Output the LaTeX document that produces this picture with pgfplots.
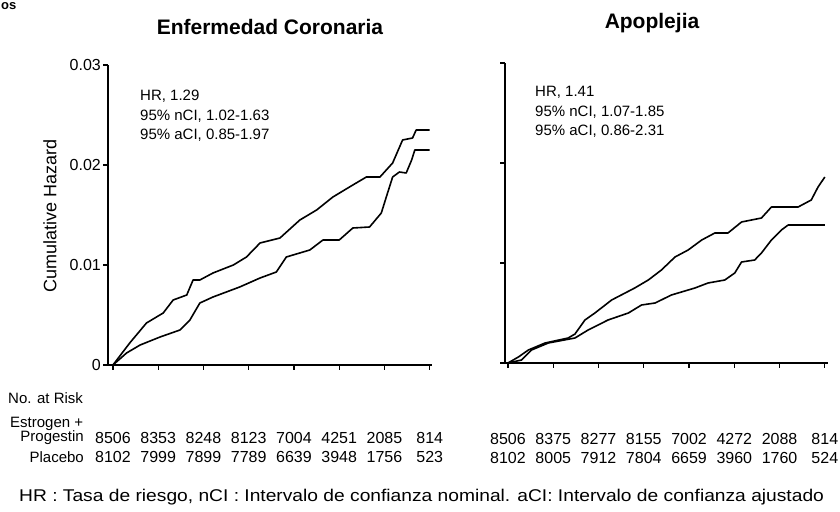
\documentclass[border=0pt]{standalone}
\usepackage{fontspec}
\setmainfont{Liberation Sans}
\usepackage{graphicx}
\usepackage{pgfplots}
\pgfplotsset{compat=1.18}

\pgfplotsset{
  kmaxis/.style={
    scale only axis,
    width=323bp, height=300bp,
    ymin=0, ymax=0.03,
    axis x line*=bottom, axis y line*=left,
    axis line style={line width=1.5bp, black, -},
    xtick={0,1,2,3,4,5,6,7}, xticklabels={},
    ytick={0,0.01,0.02,0.03},
    scaled y ticks=false,
    tick align=outside,
    major tick length=5bp,
    tick style={line width=1.2bp, black},
    clip=false,
  },
  kmline/.style={black, line width=1.6bp, line join=round, mark=none},
}

\begin{document}
\begin{tikzpicture}
\path[use as bounding box] (0,0) rectangle (840bp,512bp);

% fragment of text at top left
\node[anchor=base west, inner sep=0pt, font=\fontsize{13bp}{13bp}\selectfont\bfseries] at (1bp,502bp) {os};

% ---------------- Left panel: Enfermedad Coronaria ----------------
\begin{axis}[kmaxis, at={(108bp,147bp)}, anchor=south west,
    xmin=-0.11, xmax=7.05, width=324bp,
    yticklabels={0,0.01,0.02,0.03},
    yticklabel style={font=\fontsize{16bp}{16bp}\selectfont, inner sep=2bp}]
\addplot[kmline] coordinates {
 (0,0) (0.37,0.0022) (0.74,0.0042) (1.11,0.0052) (1.33,0.0065) (1.63,0.0070)
 (1.77,0.0085) (1.92,0.0085) (2.21,0.0092) (2.66,0.0100) (2.95,0.0108)
 (3.25,0.0122) (3.69,0.0127) (4.13,0.0145) (4.5,0.0155) (4.86,0.0168)
 (5.3,0.0180) (5.6,0.0188) (5.9,0.0188) (6.18,0.0202) (6.4,0.0225)
 (6.62,0.0227) (6.7,0.0235) (7.0,0.0235)};
\addplot[kmline] coordinates {
 (0,0) (0.3,0.0012) (0.6,0.0020) (1.04,0.0028) (1.48,0.0035) (1.7,0.0045)
 (1.92,0.0062) (2.21,0.0068) (2.8,0.0078) (3.25,0.0087) (3.61,0.0093)
 (3.83,0.0108) (4.35,0.0115) (4.64,0.0125) (5.0,0.0125) (5.3,0.0137)
 (5.67,0.0138) (5.93,0.0152) (6.04,0.0168) (6.18,0.0188) (6.33,0.0193)
 (6.48,0.0192) (6.6,0.0205) (6.67,0.0215) (7.0,0.0215)};
% numbers at risk
\begin{scope}[every node/.style={font=\fontsize{16bp}{16bp}\selectfont, inner sep=0pt}]
\node at (axis cs:0,-0.0073) {8506};
\node at (axis cs:1,-0.0073) {8353};
\node at (axis cs:2,-0.0073) {8248};
\node at (axis cs:3,-0.0073) {8123};
\node at (axis cs:4,-0.0073) {7004};
\node at (axis cs:5,-0.0073) {4251};
\node at (axis cs:6,-0.0073) {2085};
\node at (axis cs:7,-0.0073) {814};
\node at (axis cs:0,-0.0092) {8102};
\node at (axis cs:1,-0.0092) {7999};
\node at (axis cs:2,-0.0092) {7899};
\node at (axis cs:3,-0.0092) {7789};
\node at (axis cs:4,-0.0092) {6639};
\node at (axis cs:5,-0.0092) {3948};
\node at (axis cs:6,-0.0092) {1756};
\node at (axis cs:7,-0.0092) {523};
\end{scope}
\end{axis}

% ---------------- Right panel: Apoplejia ----------------
\begin{axis}[kmaxis, at={(505bp,149bp)}, anchor=south west,
    xmin=-0.066, xmax=7.07,
    yticklabels={}]
\addplot[kmline] coordinates {
 (0,0) (0.23,0.0006) (0.45,0.0013) (0.82,0.0020) (1.33,0.0025) (1.48,0.0029)
 (1.7,0.0043) (1.92,0.0050) (2.29,0.0063) (2.8,0.0075) (3.1,0.0083)
 (3.39,0.0093) (3.69,0.0106) (3.98,0.0113) (4.28,0.0123) (4.57,0.0130)
 (4.86,0.0130) (5.16,0.0141) (5.6,0.0145) (5.82,0.0156) (6.41,0.0156)
 (6.7,0.0163) (6.85,0.0176) (7.0,0.0186)};
\addplot[kmline] coordinates {
 (0,0) (0.3,0.0003) (0.52,0.0013) (0.89,0.0020) (1.48,0.0025) (1.77,0.0033)
 (2.21,0.0043) (2.66,0.0050) (2.95,0.0058) (3.25,0.0060) (3.61,0.0068)
 (4.13,0.0075) (4.42,0.0080) (4.79,0.0083) (5.01,0.0090) (5.16,0.0101)
 (5.45,0.0103) (5.6,0.0110) (5.82,0.0123) (6.04,0.0133) (6.19,0.0138)
 (7.0,0.0138)};
\begin{scope}[every node/.style={font=\fontsize{16bp}{16bp}\selectfont, inner sep=0pt}]
\node at (axis cs:0,-0.0076) {8506};
\node at (axis cs:1,-0.0076) {8375};
\node at (axis cs:2,-0.0076) {8277};
\node at (axis cs:3,-0.0076) {8155};
\node at (axis cs:4,-0.0076) {7002};
\node at (axis cs:5,-0.0076) {4272};
\node at (axis cs:6,-0.0076) {2088};
\node at (axis cs:7,-0.0076) {814};
\node at (axis cs:0,-0.0095) {8102};
\node at (axis cs:1,-0.0095) {8005};
\node at (axis cs:2,-0.0095) {7912};
\node at (axis cs:3,-0.0095) {7804};
\node at (axis cs:4,-0.0095) {6659};
\node at (axis cs:5,-0.0095) {3960};
\node at (axis cs:6,-0.0095) {1760};
\node at (axis cs:7,-0.0095) {524};
\end{scope}
\end{axis}

% ---------------- Texts ----------------
\node[font=\fontsize{21bp}{21bp}\selectfont\bfseries] at (270bp,485bp) {Enfermedad Coronaria};
\node[font=\fontsize{21bp}{21bp}\selectfont\bfseries] at (652bp,489bp) {Apoplejia};

\node[rotate=90, font=\fontsize{18bp}{18bp}\selectfont] at (50bp,296bp) {Cumulative Hazard};

\node[anchor=north west, align=left, inner sep=0pt, font=\fontsize{15bp}{19.5bp}\selectfont]
  at (140bp,422bp) {HR, 1.29\\95\% nCI, 1.02-1.63\\95\% aCI, 0.85-1.97};
\node[anchor=north west, align=left, inner sep=0pt, font=\fontsize{15bp}{19.5bp}\selectfont]
  at (535bp,426bp) {HR, 1.41\\95\% nCI, 1.07-1.85\\95\% aCI, 0.86-2.31};

\begin{scope}[every node/.style={font=\fontsize{15bp}{15bp}\selectfont, inner sep=0pt}]
\node[anchor=west] at (8bp,114bp) {No. at Risk};
\node[anchor=west] at (10bp,88bp) {Estrogen +};
\node[anchor=east] at (84bp,74bp) {Progestin};
\node[anchor=east] at (84bp,55bp) {Placebo};
\end{scope}

\node[anchor=west, inner sep=0pt, font=\fontsize{17bp}{17bp}\selectfont] at (19bp,15bp)
  {\scalebox{1.13}[1]{HR : Tasa de riesgo, nCI : Intervalo de confianza nominal. aCI: Intervalo de confianza ajustado}};
\end{tikzpicture}
\end{document}
